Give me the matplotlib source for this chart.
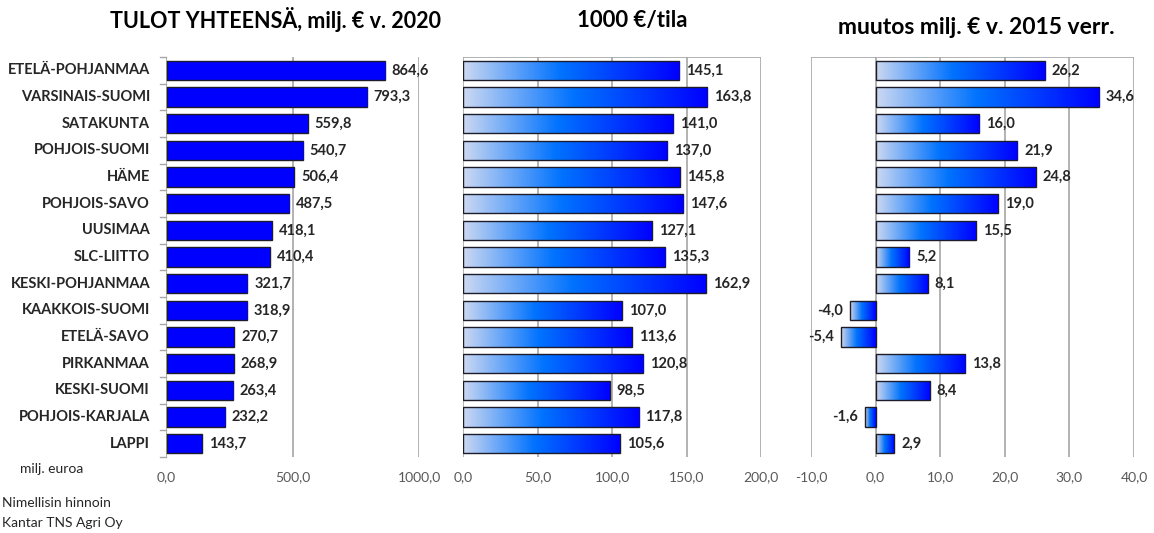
import matplotlib
matplotlib.use("Agg")
import matplotlib.pyplot as plt
import numpy as np
from matplotlib.colors import LinearSegmentedColormap
from matplotlib.patches import Rectangle
from matplotlib.ticker import FuncFormatter

plt.rcParams['font.family'] = ['Lato', 'DejaVu Sans']

regions = ["ETELÄ-POHJANMAA", "VARSINAIS-SUOMI", "SATAKUNTA", "POHJOIS-SUOMI",
           "HÄME", "POHJOIS-SAVO", "UUSIMAA", "SLC-LIITTO", "KESKI-POHJANMAA",
           "KAAKKOIS-SUOMI", "ETELÄ-SAVO", "PIRKANMAA", "KESKI-SUOMI",
           "POHJOIS-KARJALA", "LAPPI"]
total_income = [864.6, 793.3, 559.8, 540.7, 506.4, 487.5, 418.1, 410.4, 321.7,
                318.9, 270.7, 268.9, 263.4, 232.2, 143.7]
income_per_farm = [145.1, 163.8, 141.0, 137.0, 145.8, 147.6, 127.1, 135.3, 162.9,
                   107.0, 113.6, 120.8, 98.5, 117.8, 105.6]
change_since_2015 = [26.2, 34.6, 16.0, 21.9, 24.8, 19.0, 15.5, 5.2, 8.1,
                     -4.0, -5.4, 13.8, 8.4, -1.6, 2.9]

titles = ["TULOT YHTEENSÄ, milj. € v. 2020", "1000 €/tila",
          "muutos milj. € v. 2015 verr."]

W, H = 1154, 533
fig = plt.figure(figsize=(W / 100, H / 100), dpi=100)

def ax_at(x0, x1, y0=57, y1=457):
    return fig.add_axes([x0 / W, 1 - y1 / H, (x1 - x0) / W, (y1 - y0) / H])

GRID = "#a6a6a6"
TXT = "#262626"
TICKC = "#595959"
EDGE = "#1c1c2a"
fmt = FuncFormatter(lambda v, p: f"{v:.1f}".replace(".", ","))

grad = LinearSegmentedColormap.from_list(
    "bargrad", [(0.0, (0.80, 0.85, 0.95)), (0.45, (0.0, 0.45, 1.0)),
                (1.0, (0.0, 0.0, 1.0))])
gvals = np.linspace(0, 1, 256).reshape(1, -1)

n = len(regions)
ypos = np.arange(n)
bar_h = 0.72

def setup(ax, xmin, xmax, ticks, top_line):
    ax.set_xlim(xmin, xmax)
    ax.set_ylim(n - 0.5, -0.5)
    for s in ax.spines.values():
        s.set_visible(False)
    ax.set_xticks(ticks)
    ax.xaxis.set_major_formatter(fmt)
    ax.tick_params(axis="x", length=0, pad=10, labelsize=10, labelcolor=TICKC)
    ax.set_yticks([])
    for t in ticks:
        ax.axvline(t, color=GRID, lw=1.2, zorder=0)
    if top_line:
        ax.axhline(-0.5, color=GRID, lw=1.2, zorder=0)

def label(ax, v, y, dx):
    off = dx if v >= 0 else -dx
    ax.annotate(f"{v:.1f}".replace(".", ","), (v, y), xytext=(off, 0),
                textcoords="offset points", va="center",
                ha="left" if v >= 0 else "right",
                fontsize=10.5, fontweight="bold", color=TXT)

def gradient_bars(ax, vals):
    for y, v in zip(ypos, vals):
        x0, x1 = min(0, v), max(0, v)
        rect = Rectangle((x0, y - bar_h / 2), x1 - x0, bar_h, facecolor="none",
                         edgecolor=EDGE, lw=1.0, zorder=3)
        ax.add_patch(rect)
        im = ax.imshow(gvals, cmap=grad, aspect="auto", interpolation="bilinear",
                       extent=(x0, x1, y + bar_h / 2, y - bar_h / 2), zorder=2)
        im.set_clip_path(rect)
        label(ax, v, y, 5)

# Panel 1: total income
ax1 = ax_at(166, 419)
setup(ax1, 0, 1000, [500, 1000], False)
ax1.axvline(0, color=GRID, lw=1.2, zorder=4)
ax1.barh(ypos, total_income, height=bar_h, color="#0000ff", edgecolor=EDGE,
         lw=1.0, zorder=3)
for y, v in zip(ypos, total_income):
    label(ax1, v, y, 5)
ax1.set_xticks([0, 500, 1000])
for yb in np.arange(-0.5, n, 1.0):
    ax1.plot([-0.022, 0], [yb, yb], transform=ax1.get_yaxis_transform(),
             color=GRID, lw=1.0, clip_on=False)
for y, r in zip(ypos, regions):
    ax1.text(-16 / 253, y, r, transform=ax1.get_yaxis_transform(),
             ha="right", va="center", fontsize=10.5, fontweight="bold", color=TXT)

# Panel 2: income per farm
ax2 = ax_at(463, 761)
setup(ax2, 0, 200, [0, 50, 100, 150, 200], True)
gradient_bars(ax2, income_per_farm)

# Panel 3: change since 2015
ax3 = ax_at(811, 1134)
setup(ax3, -10, 40, [-10, 0, 10, 20, 30, 40], True)
gradient_bars(ax3, change_since_2015)

# Titles
fig.text(276 / W, 1 - 20 / H, titles[0], ha="center", va="center",
         fontsize=15.5, fontweight="bold", color="#000000")
fig.text(632 / W, 1 - 20 / H, titles[1], ha="center", va="center",
         fontsize=16, fontweight="bold", color="#000000")
fig.text(976 / W, 1 - 28 / H, titles[2], ha="center", va="center",
         fontsize=16.5, fontweight="bold", color="#000000")

# Footnotes
fig.text(20 / W, 1 - 469 / H, "milj. euroa", ha="left", va="center",
         fontsize=10, color=TXT)
fig.text(2 / W, 1 - 503 / H, "Nimellisin hinnoin", ha="left", va="center",
         fontsize=10, color=TXT)
fig.text(2 / W, 1 - 523 / H, "Kantar TNS Agri Oy", ha="left", va="center",
         fontsize=10, color=TXT)

fig.savefig("out.png", dpi=100, facecolor="white")
